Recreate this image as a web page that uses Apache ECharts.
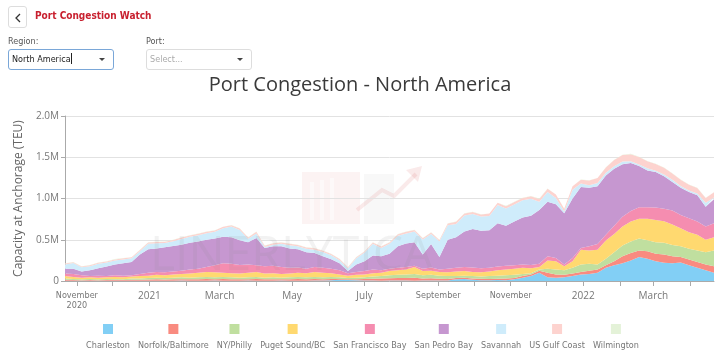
<!DOCTYPE html>
<html>
<head>
<meta charset="utf-8">
<script src="https://cdn.jsdelivr.net/npm/echarts@6/dist/echarts.min.js"></script>
<style>
  body { margin: 0; width: 720px; height: 354px; overflow: hidden; background: #fff; }
  #chart { position: absolute; left: 0; top: 0; width: 720px; height: 354px; }
  .ui { position: absolute; font-family: 'Liberation Sans Narrow', 'DejaVu Sans Condensed', 'Roboto', sans-serif; }
  .back { left: 8px; top: 6px; width: 19px; height: 22px; border: 1px solid #ddd; border-radius: 3px; box-sizing: border-box; }
  .back svg { position: absolute; left: 5px; top: 6px; }
  .app-title { left: 35px; top: 10px; font-size: 10px; font-weight: bold; color: #c8202f; }
  .lbl { top: 36px; font-size: 9px; color: #555; }
  .select { top: 49px; width: 106px; height: 21px; border: 1px solid #ddd; border-radius: 3px; box-sizing: border-box;
            font-size: 9px; line-height: 19px; padding-left: 3px; color: #222; background: #fff; }
  .select.active { border-color: #7aa7d8; }
  .select .ph { color: #aaa; }
  .cursor { display: inline-block; width: 1px; height: 11px; background: #222; vertical-align: -2px; }
  .caret { position: absolute; right: 8px; top: 8px; width: 0; height: 0;
           border-left: 3px solid transparent; border-right: 3px solid transparent; border-top: 3px solid #444; }
</style>
</head>
<body>
<div id="chart"></div>
<div class="ui back"><svg width="8" height="10"><polyline points="6,1 2,5 6,9" fill="none" stroke="#333" stroke-width="1.3"/></svg></div>
<div class="ui app-title">Port Congestion Watch</div>
<div class="ui lbl" style="left:8px">Region:</div>
<div class="ui select active" style="left:8px">North America<span class="cursor"></span><span class="caret"></span></div>
<div class="ui lbl" style="left:146px">Port:</div>
<div class="ui select" style="left:146px"><span class="ph">Select...</span><span class="caret"></span></div>
<script>
// weekly readings, thousand TEU at anchorage
const startDate = [2020, 9, 22]
const weekCount = 79

const ports = ['Charleston', 'Norfolk/Baltimore', 'NY/Philly', 'Puget Sound/BC', 'San Francisco Bay',
  'San Pedro Bay', 'Savannah', 'US Gulf Coast', 'Wilmington']
const colors = ['#82cff5', '#f98b80', '#c0df9f', '#ffd970', '#f58db0', '#c697d0', '#cfecfb', '#fdd3cf', '#e4f2d8']

const charleston = [3,2,2,3,2,3,3,2,3,4,3,4,3,4,5,4,3,4,5,4,3,4,5,4,3,4,5,4,3,4,5,6,8,
  15,12,10,6,5,4,5,6,5,4,5,6,5,6,
  20,25,15,8,10,12,10,
  20,40,60,100,45,40,45,60,80,85,100,160,190,215,250,290,270,240,220,215,225,190,160,130,100]
const norfolk = [12,10,8,9,8,9,11,10,12,11,15,16,15,16,17,16,19,21,17,21,19,16,17,21,17,18,15,18,22,18,20,16,17,
  10,8,12,19,23,26,27,29,30,34,25,26,23,19,
  15,15,15,18,15,16,20,
  15,20,20,25,55,40,30,30,30,40,40,30,50,85,90,80,90,90,100,85,65,70,70,70,80]
const nyPhilly = [15,13,10,13,10,13,11,8,15,15,17,20,17,20,23,20,23,25,23,25,23,20,23,25,20,23,20,23,25,23,25,23,25,
  20,15,18,20,27,30,38,40,45,47,40,43,37,35,
  25,25,30,29,35,37,40,
  40,25,15,15,50,60,55,70,90,85,60,80,110,130,140,145,135,140,145,135,130,130,140,150,190]
const pugetSound = [30,25,20,20,20,20,25,25,25,30,30,35,35,40,40,50,55,60,60,50,50,50,55,60,50,50,45,45,50,50,60,55,45,
  35,30,35,35,40,40,50,55,60,85,50,50,45,45,
  55,55,50,50,55,65,70,
  75,75,60,30,100,100,50,80,180,160,180,220,220,230,240,240,260,270,260,250,220,200,190,150,160]
const sanFrancisco = [30,35,30,15,25,15,20,20,15,25,35,35,35,35,40,50,50,60,85,115,115,105,100,80,90,90,85,70,65,55,60,60,55,
  50,30,35,40,45,30,30,30,30,15,30,40,30,45,
  45,50,55,50,45,45,45,
  40,40,40,40,50,40,20,40,20,50,70,70,100,120,130,140,140,150,150,170,160,170,160,160,170]
const sanPedro = [60,65,45,70,90,115,130,150,160,235,
  285,285,305,310,315,325,330,330,325,320,
  320,300,270,330,220,235,250,235,220,200,
  170,140,115,85,25,90,120,170,170,180,
  260,285,285,170,285,150,350,370,430,465,
  455,455,525,485,530,570,595,650,660,650,
  620,720,740,710,700,720,690,635,580,500,
  445,430,395,345,330,320,320,240,290]
const savannah = [50,67,52,50,55,48,50,47,45,42,
  67,63,51,57,69,72,76,79,82,104,
  131,124,42,57,12,19,31,39,37,41,
  39,52,46,38,35,77,105,142,99,121,
  129,122,129,182,119,191,175,162,193,181,
  172,174,221,209,207,209,207,100,119,77,
  22,107,42,32,37,32,32,32,22,17,
  27,17,22,27,22,17,22,47,22]
const gulfCoast = [12,10,10,12,12,14,12,15,12,15,15,14,16,15,18,15,16,18,15,18,16,
  18,15,20,15,18,16,18,15,16,18,15,16,14,12,10,12,15,18,16,18,20,18,15,18,16,
  22,25,24,26,25,28,26,28,30,28,30,
  35,38,40,35,40,45,
  55,60,65,75,80,85,90,85,80,80,75,75,70,65,60,65]
const wilmington = [3,2,3,3,2,3,4,3,2,3,3,4,3,3,2,3,4,3,3,2,3,3,4,3,2,3,3,4,3,3,2,3,3,
  2,2,3,3,4,3,3,2,3,4,3,3,2,3,
  3,4,3,3,2,3,4,
  3,3,4,4,3,3,2,3,4,4,3,3,4,4,5,4,4,3,4,3,3,4,3,3,4]

const values = [charleston, norfolk, nyPhilly, pugetSound, sanFrancisco, sanPedro, savannah, gulfCoast, wilmington]

const dates = []
for (let i = 0; i < weekCount; i++) {
  dates.push(new Date(startDate[0], startDate[1], startDate[2] + i * 7).getTime())
}

const monthNames = ['January','February','March','April','May','June','July','August','September','October','November','December']
const DAY = 24 * 3600 * 1000

const series = ports.map((name, i) => ({
  name: name,
  type: 'line',
  stack: 'total',
  symbol: 'none',
  showSymbol: false,
  lineStyle: { width: 0 },
  itemStyle: { color: colors[i] },
  areaStyle: { color: colors[i], opacity: 1 },
  emphasis: { disabled: true },
  data: dates.map((d, j) => [d, values[i][j] * 1000])
}))

const legendRich = { t: { fontSize: 9, color: '#777', align: 'center', padding: [7, 0, 0, 0],
  fontFamily: "'Liberation Sans Narrow', 'DejaVu Sans Condensed', sans-serif" } }
colors.forEach((c, i) => { legendRich['b' + i] = { width: 10, height: 10, backgroundColor: c, align: 'center' } })

const chart = echarts.init(document.getElementById('chart'))
chart.setOption({
  animation: false,
  title: {
    text: 'Port Congestion - North America',
    left: 'center', top: 75, padding: 0,
    textStyle: { fontSize: 20, fontWeight: 'normal', color: '#3a3a3a', fontFamily: "'Open Sans', sans-serif" }
  },
  grid: { left: 65, right: 6, top: 116, bottom: 73 },
  legend: {
    bottom: 4, left: 'center', padding: 0,
    itemWidth: 0, itemHeight: 0, itemGap: 3,
    icon: 'rect',
    data: ports,
    formatter: name => '{b' + ports.indexOf(name) + '|}\n{t|' + name + '}',
    textStyle: { rich: legendRich }
  },
  xAxis: {
    type: 'time',
    min: dates[0],
    max: dates[dates.length - 1],
    splitNumber: 18,
    minInterval: 28 * DAY,
    maxInterval: 31 * DAY,
    axisLine: { lineStyle: { color: '#aaa' } },
    axisTick: { show: true, length: 5, lineStyle: { color: '#aaa' } },
    splitLine: { show: false },
    axisLabel: {
      color: '#777', fontSize: 10, margin: 10, hideOverlap: false,
      fontFamily: "'Open Sans', sans-serif",
      rich: { s: { fontSize: 9, color: '#777', lineHeight: 10, fontFamily: "'Liberation Sans Narrow', 'DejaVu Sans Condensed', sans-serif" } },
      formatter: function (value) {
        const d = new Date(value)
        if (d.getDate() !== 1 || d.getHours() !== 0) return ''
        const m = d.getMonth()
        if (m === 10 && d.getFullYear() === 2020) return '{s|November}\n{s|2020}'
        if (m === 0) return String(d.getFullYear())
        if (m === 8 || m === 10) return '{s|' + monthNames[m] + '}'
        if (m % 2 === 0) return monthNames[m]
        return ''
      }
    }
  },
  yAxis: {
    type: 'value',
    min: 0, max: 2000000, interval: 500000,
    name: 'Capacity at Anchorage (TEU)',
    nameLocation: 'middle',
    nameGap: 37,
    nameTextStyle: { fontSize: 12, color: '#666', fontFamily: "'Open Sans', sans-serif" },
    axisLine: { show: true, lineStyle: { color: '#aaa' } },
    axisTick: { show: true, length: 4, lineStyle: { color: '#aaa' } },
    splitLine: { lineStyle: { color: '#e2e2e2' } },
    axisLabel: {
      color: '#777', fontSize: 10, margin: 6, fontFamily: "'Open Sans', sans-serif",
      formatter: v => v === 0 ? '0' : (v / 1000000).toFixed(1) + 'M'
    }
  },
  graphic: [
    { type: 'group', left: 302, top: 166, silent: true, z: 100, children: [
      { type: 'rect', shape: { x: 0, y: 12, width: 58, height: 52 }, style: { fill: 'rgba(215,80,80,0.07)' } },
      { type: 'rect', shape: { x: 8, y: 22, width: 4, height: 38 }, style: { fill: 'rgba(255,255,255,0.5)' } },
      { type: 'rect', shape: { x: 18, y: 20, width: 4, height: 40 }, style: { fill: 'rgba(255,255,255,0.5)' } },
      { type: 'rect', shape: { x: 28, y: 18, width: 4, height: 42 }, style: { fill: 'rgba(255,255,255,0.5)' } },
      { type: 'rect', shape: { x: 62, y: 14, width: 30, height: 50 }, style: { fill: 'rgba(150,150,150,0.07)' } },
      { type: 'polyline', shape: { points: [[55, 50], [80, 30], [92, 36], [114, 14]] }, style: { stroke: 'rgba(215,80,80,0.12)', lineWidth: 4, fill: null } },
      { type: 'polygon', shape: { points: [[104, 10], [120, 6], [116, 22]] }, style: { fill: 'rgba(215,80,80,0.12)' } }
    ] },
    { type: 'text', left: 150, top: 232, silent: true, z: 100,
      style: { text: 'LINERLYTICA', fontSize: 48, fill: 'rgba(140,140,140,0.11)', fontFamily: "'Open Sans', sans-serif" } }
  ],
  series: series
})
</script>
</body>
</html>
